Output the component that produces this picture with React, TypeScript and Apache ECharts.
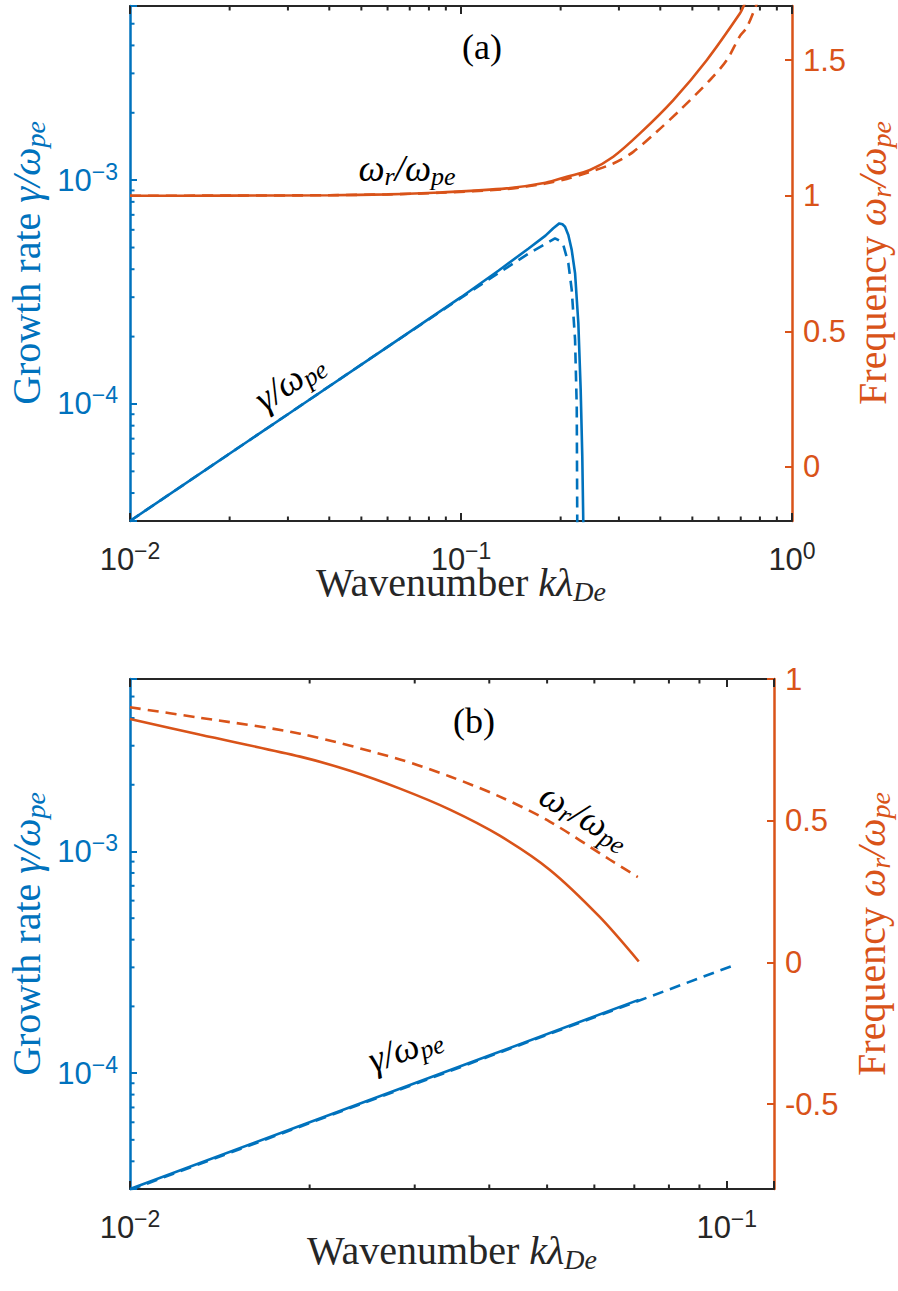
import React, { useEffect, useRef } from 'react';
import * as echarts from 'echarts';

const BLUE = '#0072BD';
const ORANGE = '#D95319';
const INK = '#262626';
const SANS = 'Liberation Sans';
const SERIF = 'Liberation Serif';

// ---------- Panel (a) ----------
// growth rate (left, log axis)
const kGammaSolidA = [0.01, 0.03, 0.06, 0.1, 0.13, 0.16, 0.18, 0.19, 0.1982, 0.2025, 0.2062, 0.211, 0.216, 0.2211, 0.2262, 0.2299, 0.2325, 0.2341, 0.2348];
const gammaSolidA = [3.0e-5, 9.0e-5, 1.8e-4, 3.0e-4, 3.95e-4, 4.95e-4, 5.65e-4, 6.1e-4, 6.41e-4, 6.35e-4, 6.19e-4, 5.69e-4, 4.88e-4, 3.84e-4, 2.3e-4, 1.16e-4, 5.84e-5, 3.0e-5, 1.0e-5];
const kGammaDashA = [0.01, 0.03, 0.06, 0.1, 0.13, 0.16, 0.18, 0.1923, 0.1991, 0.2038, 0.211, 0.216, 0.2211, 0.2237, 0.2245, 0.2248];
const gammaDashA = [3.0e-5, 9.0e-5, 1.8e-4, 2.98e-4, 3.85e-4, 4.7e-4, 5.2e-4, 5.5e-4, 5.35e-4, 5.13e-4, 4.26e-4, 3.24e-4, 1.94e-4, 9.75e-5, 3.0e-5, 1.0e-5];
// real frequency (right, linear axis)
const kFreqSolidA = [0.01, 0.02, 0.04, 0.06, 0.0864, 0.1374, 0.18, 0.2087, 0.2453, 0.2884, 0.3473, 0.438, 0.5525, 0.6966, 0.7145, 0.75];
const freqSolidA = [1.0, 1.0005, 1.002, 1.005, 1.012, 1.027, 1.048, 1.07, 1.095, 1.144, 1.23, 1.353, 1.5, 1.673, 1.7, 1.75];
const kFreqDashA = [0.01, 0.02, 0.04, 0.06, 0.0864, 0.1374, 0.18, 0.2087, 0.2342, 0.2884, 0.3315, 0.3902, 0.4587, 0.5653, 0.6349, 0.6966, 0.7295, 0.778, 0.82];
const freqDashA = [1.0, 1.0005, 1.002, 1.005, 1.011, 1.025, 1.045, 1.062, 1.08, 1.119, 1.162, 1.236, 1.316, 1.427, 1.5, 1.59, 1.62, 1.7, 1.77];

// ---------- Panel (b) ----------
const kGammaSolidB = [0.01, 0.02, 0.04, 0.0712];
const gammaSolidB = [3.0e-5, 6.0e-5, 1.2e-4, 2.14e-4];
const kGammaDashB = [0.01, 0.02, 0.04, 0.0712, 0.1016];
const gammaDashB = [2.97e-5, 5.95e-5, 1.19e-4, 2.12e-4, 3.03e-4];
const kFreqSolidB = [0.01, 0.01312, 0.01928, 0.02337, 0.02834, 0.03436, 0.04165, 0.05049, 0.0612, 0.07121];
const freqSolidB = [0.859, 0.803, 0.726, 0.676, 0.613, 0.539, 0.447, 0.327, 0.161, 0.003];
const kFreqDashB = [0.01, 0.01312, 0.01928, 0.02834, 0.03436, 0.04165, 0.05049, 0.06363, 0.07094];
const freqDashB = [0.9, 0.863, 0.807, 0.716, 0.656, 0.585, 0.497, 0.363, 0.301];

// axis ranges and tick values
const xRangeA = [0.01, 1];
const xRangeB = [0.01, 0.12];
const gammaRange = [3e-5, 6e-3];
const freqRangeA = [-0.2, 1.7];
const freqRangeB = [-0.8, 1];
const freqTicksA = [0, 0.5, 1, 1.5];
const freqTicksB = [-0.5, 0, 0.5, 1];
const xMinorA = [0.02, 0.03, 0.04, 0.05, 0.06, 0.07, 0.08, 0.09, 0.2, 0.3, 0.4, 0.5, 0.6, 0.7, 0.8, 0.9];
const xMinorB = [0.02, 0.03, 0.04, 0.05, 0.06, 0.07, 0.08, 0.09];
const gammaMinor = [4e-5, 5e-5, 6e-5, 7e-5, 8e-5, 9e-5, 2e-4, 3e-4, 4e-4, 5e-4, 6e-4, 7e-4, 8e-4, 9e-4, 2e-3, 3e-3, 4e-3, 5e-3];

const zip = (xs: number[], ys: number[]) => xs.map((x, i) => [x, ys[i]]);

const TICK_FONT = 31;
const SUP_FONT = 23;
const powRich = {
  b: { fontFamily: SANS, fontSize: TICK_FONT },
  s: { fontFamily: SANS, fontSize: SUP_FONT, padding: [0, 0, 17, 0] },
};
// powers of ten as 10 with a raised exponent (true minus sign)
const powLabel = (v: number) => {
  const e = Math.log10(v);
  const r = Math.round(e);
  if (Math.abs(e - r) > 1e-6) return '';
  const exp = r < 0 ? `\u2212${-r}` : `${r}`;
  return `{b|10}{s|${exp}}`;
};

function xAxes(gridIndex: number, range: number[]) {
  const common = {
    gridIndex,
    type: 'log' as const,
    logBase: 10,
    min: range[0],
    max: range[1],
    splitLine: { show: false },
    axisLine: { onZero: false, lineStyle: { color: INK, width: 2 } },
    axisTick: { inside: true, length: 8, lineStyle: { color: INK, width: 2 } },
  };
  return [
    {
      ...common,
      position: 'bottom',
      axisLabel: { color: INK, margin: 18, formatter: powLabel, rich: powRich },
    },
    { ...common, position: 'top', axisLabel: { show: false } },
  ];
}

function yAxes(gridIndex: number, freqRange: number[], freqTicks: number[]) {
  return [
    {
      gridIndex,
      type: 'log',
      logBase: 10,
      position: 'left',
      min: gammaRange[0],
      max: gammaRange[1],
      splitLine: { show: false },
      axisLine: { onZero: false, lineStyle: { color: BLUE, width: 2.5 } },
      axisTick: { inside: true, length: 7, lineStyle: { color: BLUE, width: 2 } },
      axisLabel: { color: BLUE, margin: 12, formatter: powLabel, rich: powRich },
    },
    {
      gridIndex,
      type: 'value',
      position: 'right',
      min: freqRange[0],
      max: freqRange[1],
      splitLine: { show: false },
      axisLine: { onZero: false, lineStyle: { color: ORANGE, width: 2.5 } },
      axisTick: { inside: true, length: 7, customValues: freqTicks, lineStyle: { color: ORANGE, width: 2 } },
      axisLabel: {
        color: ORANGE,
        margin: 11,
        fontFamily: SANS,
        fontSize: TICK_FONT,
        customValues: freqTicks,
        formatter: (v: number) => String(v),
      },
    },
  ];
}

function line(xi: number, yi: number, data: number[][], color: string, dashed: boolean, smooth = 0) {
  return {
    type: 'line',
    xAxisIndex: xi,
    yAxisIndex: yi,
    data,
    showSymbol: false,
    symbol: 'none',
    silent: true,
    clip: true,
    z: 5,
    smooth,
    lineStyle: { color, width: 2.6, type: dashed ? [11, 7] : 'solid', cap: 'butt' },
  };
}

function xMinorTicks(xi: number, yi: number, ticks: number[]) {
  return {
    type: 'custom',
    xAxisIndex: xi,
    yAxisIndex: yi,
    silent: true,
    clip: false,
    z: 4,
    data: ticks.map((t) => [t, gammaRange[0]]),
    renderItem: (params: any, api: any) => {
      const cs = params.coordSys;
      const px = api.coord([api.value(0), api.value(1)])[0];
      const bottom = cs.y + cs.height;
      return {
        type: 'group',
        children: [
          { type: 'line', shape: { x1: px, y1: bottom, x2: px, y2: bottom - 4.5 }, style: { stroke: INK, lineWidth: 2 } },
          { type: 'line', shape: { x1: px, y1: cs.y, x2: px, y2: cs.y + 4.5 }, style: { stroke: INK, lineWidth: 2 } },
        ],
      };
    },
  };
}

function yMinorTicks(xi: number, yi: number, xmin: number) {
  return {
    type: 'custom',
    xAxisIndex: xi,
    yAxisIndex: yi,
    silent: true,
    clip: false,
    z: 4,
    data: gammaMinor.map((g) => [xmin, g]),
    renderItem: (params: any, api: any) => {
      const cs = params.coordSys;
      const py = api.coord([api.value(0), api.value(1)])[1];
      return {
        type: 'line',
        shape: { x1: cs.x, y1: py, x2: cs.x + 4.5, y2: py },
        style: { stroke: BLUE, lineWidth: 2 },
      };
    },
  };
}

// rich-text math pieces
const mathRich = (color: string, size: number) => ({
  r: { fontFamily: SERIF, fontSize: size, fill: color },
  i: { fontFamily: SERIF, fontSize: size, fontStyle: 'italic', fill: color },
  sub: { fontFamily: SERIF, fontSize: Math.round(size * 0.7), fontStyle: 'italic', fill: color, padding: [Math.round(size * 0.45), 0, 0, 0] },
});

function textEl(text: string, x: number, y: number, color: string, size: number, rotationDeg = 0) {
  return {
    type: 'text',
    x,
    y,
    rotation: (rotationDeg * Math.PI) / 180,
    silent: true,
    z: 10,
    style: {
      text,
      fontFamily: SERIF,
      fontSize: size,
      rich: mathRich(color, size),
      align: 'center',
      verticalAlign: 'middle',
    },
  };
}

const TITLE = 40;
const NOTE = 37;
const gammaTitle = '{r|Growth rate }{i|γ/ω}{sub|pe}';
const freqTitle = '{r|Frequency }{i|ω}{sub|r}{i|/ω}{sub|pe}';
const waveTitle = '{r|Wavenumber }{i|kλ}{sub|De}';
const freqNote = '{i|ω}{sub|r}{i|/ω}{sub|pe}';
const gammaNote = '{i|γ/ω}{sub|pe}';

export default function App() {
  const ref = useRef<HTMLDivElement>(null);

  useEffect(() => {
    document.body.style.margin = '0';
    const chart = echarts.init(ref.current!, undefined, { renderer: 'svg' });
    chart.setOption({
      animation: false,
      backgroundColor: '#ffffff',
      grid: [
        { left: 130, top: 6, width: 662, height: 515 },
        { left: 130, top: 679, width: 644, height: 510 },
      ],
      xAxis: [...xAxes(0, xRangeA), ...xAxes(1, xRangeB)],
      yAxis: [...yAxes(0, freqRangeA, freqTicksA), ...yAxes(1, freqRangeB, freqTicksB)],
      series: [
        // panel (a)
        line(0, 1, zip(kFreqSolidA, freqSolidA), ORANGE, false, 0.3),
        line(0, 1, zip(kFreqDashA, freqDashA), ORANGE, true, 0.3),
        line(0, 0, zip(kGammaSolidA, gammaSolidA), BLUE, false),
        line(0, 0, zip(kGammaDashA, gammaDashA), BLUE, true),
        xMinorTicks(0, 0, xMinorA),
        yMinorTicks(0, 0, xRangeA[0]),
        // panel (b)
        line(2, 3, zip(kFreqSolidB, freqSolidB), ORANGE, false, 0.3),
        line(2, 3, zip(kFreqDashB, freqDashB), ORANGE, true, 0.3),
        line(2, 2, zip(kGammaSolidB, gammaSolidB), BLUE, false),
        line(2, 2, zip(kGammaDashB, gammaDashB), BLUE, true),
        xMinorTicks(2, 2, xMinorB),
        yMinorTicks(2, 2, xRangeB[0]),
      ],
      graphic: [
        textEl('{r|(a)}', 482, 47, '#000', 36),
        textEl(freqNote, 407, 168, '#000', NOTE),
        textEl(gammaNote, 289, 381, '#000', NOTE, 34),
        textEl(gammaTitle, 26, 263, BLUE, TITLE, 90),
        textEl(freqTitle, 872, 263, ORANGE, TITLE, 90),
        textEl(waveTitle, 461, 582, INK, TITLE),

        textEl('{r|(b)}', 474, 721, '#000', 36),
        textEl(freqNote, 585, 816, '#000', NOTE, -30),
        textEl(gammaNote, 405, 1048, '#000', NOTE, 20),
        textEl(gammaTitle, 26, 934, BLUE, TITLE, 90),
        textEl(freqTitle, 871, 934, ORANGE, TITLE, 90),
        textEl(waveTitle, 452, 1250, INK, TITLE),
      ],
    });
    return () => chart.dispose();
  }, []);

  return <div ref={ref} style={{ width: 898, height: 1291 }} />;
}
